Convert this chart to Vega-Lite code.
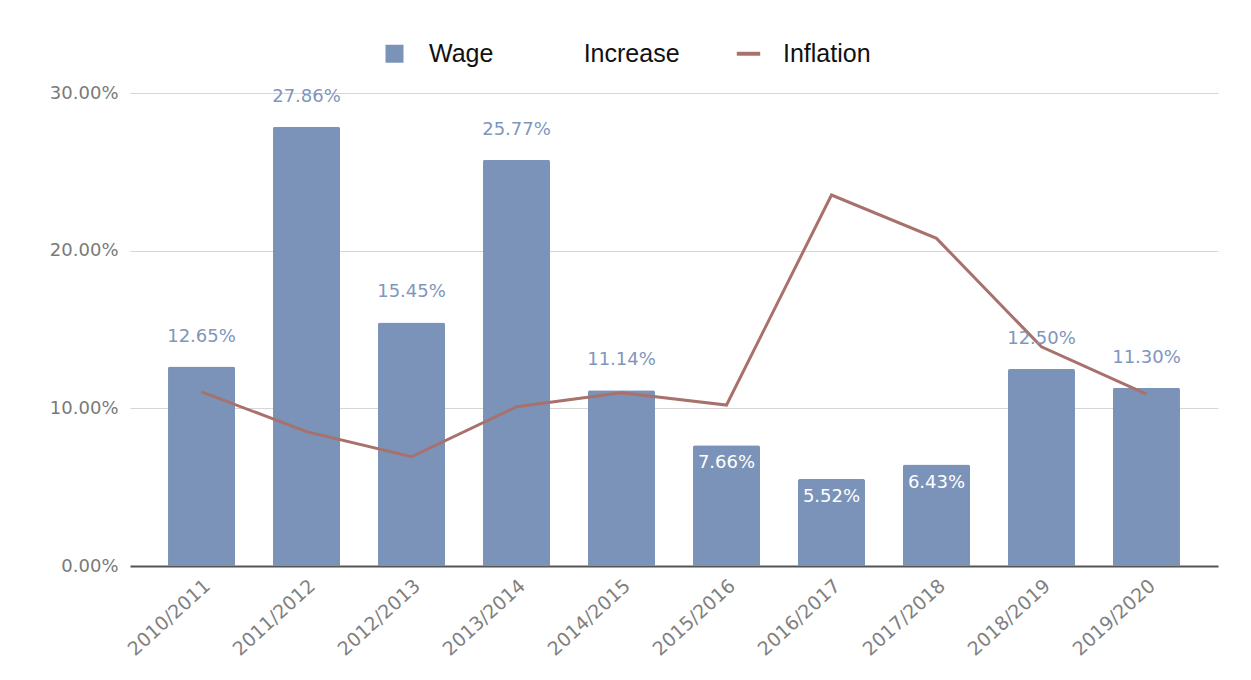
{
  "$schema": "https://vega.github.io/schema/vega-lite/v6.json",
  "width": 1088,
  "height": 473,
  "autosize": "none",
  "padding": {"left": 130, "top": 93, "right": 33, "bottom": 114},
  "background": "white",
  "config": {
    "view": {"stroke": null},
    "font": "DejaVu Sans"
  },
  "data": {
    "values": [
      {"period": "2010/2011", "wage": 0.1265, "inflation": 0.1105},
      {"period": "2011/2012", "wage": 0.2786, "inflation": 0.0852},
      {"period": "2012/2013", "wage": 0.1545, "inflation": 0.0693},
      {"period": "2013/2014", "wage": 0.2577, "inflation": 0.1010},
      {"period": "2014/2015", "wage": 0.1114, "inflation": 0.1099},
      {"period": "2015/2016", "wage": 0.0766, "inflation": 0.1021},
      {"period": "2016/2017", "wage": 0.0552, "inflation": 0.2353},
      {"period": "2017/2018", "wage": 0.0643, "inflation": 0.2078},
      {"period": "2018/2019", "wage": 0.1250, "inflation": 0.1390},
      {"period": "2019/2020", "wage": 0.1130, "inflation": 0.1090}
    ]
  },
  "encoding": {
    "x": {
      "field": "period",
      "type": "nominal",
      "sort": null,
      "scale": {"paddingInner": 0.362, "paddingOuter": 0.362},
      "axis": {
        "title": null,
        "labelAngle": -42,
        "labelAlign": "right",
        "labelBaseline": "top",
        "labelFont": "DejaVu Sans",
        "labelFontSize": 19,
        "labelColor": "#808080",
        "labelPadding": 10,
        "labelOffset": 0,
        "ticks": false,
        "domainColor": "#555555",
        "domainWidth": 2,
        "grid": false
      }
    }
  },
  "layer": [
    {
      "mark": {"type": "bar", "cornerRadiusTopLeft": 2, "cornerRadiusTopRight": 2},
      "encoding": {
        "y": {
          "field": "wage",
          "type": "quantitative",
          "scale": {"domain": [0, 0.3]},
          "axis": {
            "title": null,
            "format": ".2%",
            "values": [0, 0.1, 0.2, 0.3],
            "labelFont": "DejaVu Sans",
            "labelFontSize": 18,
            "labelColor": "#7a7a7a",
            "labelPadding": 12,
            "ticks": false,
            "domain": false,
            "gridColor": "#d6d6d6",
            "gridWidth": 1
          }
        },
        "color": {
          "datum": "Wage Increase",
          "scale": {"domain": ["Wage Increase", "Inflation"], "range": ["#7b93b9", "#a8716c"]},
          "legend": {
            "title": null,
            "orient": "none",
            "direction": "horizontal",
            "legendX": 252,
            "legendY": -52,
            "labelFont": "Liberation Sans",
            "labelFontSize": 25,
            "labelColor": "#111111",
            "labelLimit": 500,
            "labelExpr": "datum.label == 'Wage Increase' ? 'Wage\u00a0\u00a0\u00a0\u00a0\u00a0\u00a0\u00a0\u00a0\u00a0\u00a0\u00a0\u00a0\u00a0Increase' : datum.label",
            "symbolSize": 324,
            "symbolStrokeWidth": 0,
            "labelOffset": 22,
            "columnPadding": 56,
            "symbolOpacity": 1,
            "encode": {
              "symbols": {
                "update": {
                  "shape": {"signal": "datum.value == 'Inflation' ? 'M-1.3,-0.22H1.3V0.22H-1.3Z' : 'square'"}
                }
              }
            }
          }
        }
      }
    },
    {
      "mark": {"type": "line", "strokeWidth": 3},
      "encoding": {
        "y": {"field": "inflation", "type": "quantitative"},
        "color": {"datum": "Inflation"}
      }
    },
    {
      "transform": [{"filter": "datum.wage >= 0.1"}],
      "mark": {"type": "text", "baseline": "alphabetic", "dy": -25, "fontSize": 18, "font": "DejaVu Sans", "color": "#8096bc"},
      "encoding": {
        "y": {"field": "wage", "type": "quantitative"},
        "text": {"field": "wage", "type": "quantitative", "format": ".2%"}
      }
    },
    {
      "transform": [{"filter": "datum.wage < 0.1"}],
      "mark": {"type": "text", "baseline": "alphabetic", "dy": 23, "fontSize": 18, "font": "DejaVu Sans", "color": "white"},
      "encoding": {
        "y": {"field": "wage", "type": "quantitative"},
        "text": {"field": "wage", "type": "quantitative", "format": ".2%"}
      }
    }
  ]
}
